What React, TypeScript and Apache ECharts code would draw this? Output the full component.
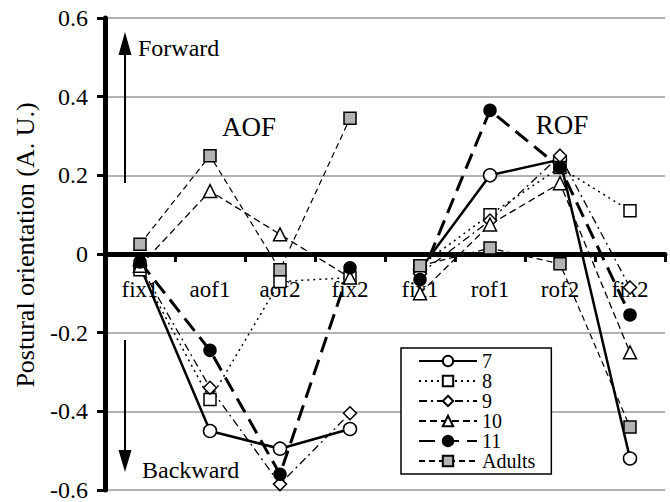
import React, { useEffect, useRef } from "react";
import * as echarts from "echarts";

// Conditions along the x axis: AOF block then ROF block
const categories = ["fix1", "aof1", "aof2", "fix2", "fix1", "rof1", "rof2", "fix2"];
const groupNames = ["AOF", "ROF"];
const legendNames = ["7", "8", "9", "10", "11", "Adults"];
const yTitle = "Postural orientation (A. U.)";

// Postural orientation (A. U.) per age group
const age7 = [-0.03, -0.45, -0.495, -0.445, -0.04, 0.2, 0.24, -0.52];
const age8 = [-0.04, -0.37, -0.07, -0.06, -0.03, 0.1, 0.22, 0.11];
const age9 = [-0.03, -0.34, -0.585, -0.405, -0.05, 0.085, 0.25, -0.085];
const age10 = [-0.03, 0.16, 0.05, -0.06, -0.1, 0.075, 0.18, -0.25];
const age11 = [-0.02, -0.245, -0.56, -0.035, -0.065, 0.365, 0.22, -0.155];
const adults = [0.025, 0.25, -0.04, 0.345, -0.03, 0.015, -0.025, -0.44];

const yTicks = [-0.6, -0.4, -0.2, 0, 0.2, 0.4, 0.6];

const SERIF = "Liberation Serif";
const RHOMBUS = "path://M5,0L10,5L5,10L0,5Z";

// Plot area in pixels
const GRID = { left: 105, right: 5, top: 18, bottom: 12 };
const PLOT_H = 502 - GRID.top - GRID.bottom;

type Style = {
  symbol: string;
  symbolSize: number;
  fill: string;
  lineType: any;
  lineWidth: number;
};

const styles: Record<string, Style> = {
  "7": { symbol: "circle", symbolSize: 13, fill: "#ffffff", lineType: "solid", lineWidth: 2.5 },
  "8": { symbol: "rect", symbolSize: 12, fill: "#ffffff", lineType: [2, 4], lineWidth: 1.5 },
  "9": { symbol: RHOMBUS, symbolSize: 13, fill: "#ffffff", lineType: [8, 4, 2, 4], lineWidth: 1.3 },
  "10": { symbol: "triangle", symbolSize: 13, fill: "#ffffff", lineType: [7, 4], lineWidth: 1.3 },
  "11": { symbol: "circle", symbolSize: 12, fill: "#000000", lineType: [16, 8], lineWidth: 3 },
  Adults: { symbol: "rect", symbolSize: 12, fill: "#b3b3b3", lineType: [6, 4], lineWidth: 1.2 },
};

const seriesValues: Record<string, number[]> = {
  "7": age7,
  "8": age8,
  "9": age9,
  "10": age10,
  "11": age11,
  Adults: adults,
};

// Each age group is drawn as two separate polylines (AOF and ROF blocks)
function makeSeries(name: string) {
  const s = styles[name];
  const values = seriesValues[name];
  return [0, 1].map((block) => ({
    type: "line",
    name,
    data: values.map((v, i) => (Math.floor(i / 4) === block ? v : "-")),
    symbol: s.symbol,
    symbolSize: s.symbolSize,
    showAllSymbol: true,
    connectNulls: false,
    lineStyle: { color: "#000", width: s.lineWidth, type: s.lineType },
    itemStyle: { color: s.fill, borderColor: "#000", borderWidth: 1.5 },
    emphasis: { disabled: true },
    z: 3,
  }));
}

export default function App() {
  const ref = useRef<HTMLDivElement>(null);

  useEffect(() => {
    if (!ref.current) return;
    const chart = echarts.init(ref.current, null, { renderer: "svg" });

    const yMin = yTicks[0];
    const yMax = yTicks[yTicks.length - 1];
    // distance from the bottom of the plot to the zero line
    const zeroOffset = (PLOT_H * (0 - yMin)) / (yMax - yMin);

    const arrowStyle = { stroke: "#000", lineWidth: 2 };
    chart.setOption({
      animation: false,
      backgroundColor: "#ffffff",
      textStyle: { fontFamily: SERIF },
      grid: { ...GRID, containLabel: false, outerBoundsMode: "none" },
      xAxis: {
        type: "category",
        data: categories,
        boundaryGap: true,
        position: "bottom",
        offset: -zeroOffset,
        axisLine: { onZero: false, lineStyle: { color: "#000", width: 5 } },
        axisTick: { show: true, inside: false, length: 8, lineStyle: { color: "#000", width: 3 } },
        axisLabel: { margin: 24, fontFamily: SERIF, fontSize: 23, color: "#000" },
        splitLine: { show: false },
        z: 2,
      },
      yAxis: {
        type: "value",
        min: yMin,
        max: yMax,
        interval: 0.2,
        axisLine: { show: true, lineStyle: { color: "#000", width: 5 } },
        axisTick: { show: true, length: 8, lineStyle: { color: "#000", width: 3 } },
        axisLabel: {
          margin: 17,
          fontFamily: SERIF,
          fontSize: 24,
          color: "#000",
          formatter: (v: number) => (Math.abs(v) < 1e-9 ? "0" : v.toFixed(1)),
        },
        splitLine: { show: true, lineStyle: { color: "#999", width: 1.5 } },
      },
      legend: {
        data: legendNames,
        orient: "vertical",
        left: 401,
        top: 348,
        backgroundColor: "#ffffff",
        borderColor: "#000",
        borderWidth: 1.5,
        borderRadius: 0,
        padding: [3, 16, 3, 17],
        itemWidth: 58,
        itemHeight: 13,
        itemGap: 0,
        selectedMode: false,
        textStyle: { fontFamily: SERIF, fontSize: 20, lineHeight: 20, color: "#000" },
      },
      graphic: [
        // Y axis title, reading bottom to top
        {
          type: "text",
          x: 25,
          y: 245,
          rotation: Math.PI / 2,
          style: { text: yTitle, font: `26px ${SERIF}`, fill: "#000", align: "center", verticalAlign: "middle" },
          z: 10,
        },
        // Forward arrow
        { type: "line", shape: { x1: 125, y1: 183, x2: 125, y2: 50 }, style: arrowStyle, z: 10 },
        { type: "polygon", shape: { points: [[125, 32], [118.5, 55], [131.5, 55]] }, style: { fill: "#000" }, z: 10 },
        {
          type: "text",
          x: 138,
          y: 48,
          style: { text: "Forward", font: `24px ${SERIF}`, fill: "#000", verticalAlign: "middle" },
          z: 10,
        },
        // Backward arrow
        { type: "line", shape: { x1: 125, y1: 340, x2: 125, y2: 455 }, style: arrowStyle, z: 10 },
        { type: "polygon", shape: { points: [[125, 472], [118.5, 450], [131.5, 450]] }, style: { fill: "#000" }, z: 10 },
        {
          type: "text",
          x: 142,
          y: 470,
          style: { text: "Backward", font: `24px ${SERIF}`, fill: "#000", verticalAlign: "middle" },
          z: 10,
        },
        // Block titles
        {
          type: "text",
          x: 249,
          y: 127,
          style: { text: groupNames[0], font: `27px ${SERIF}`, fill: "#000", align: "center", verticalAlign: "middle" },
          z: 10,
        },
        {
          type: "text",
          x: 562,
          y: 125,
          style: { text: groupNames[1], font: `27px ${SERIF}`, fill: "#000", align: "center", verticalAlign: "middle" },
          z: 10,
        },
      ],
      series: legendNames.flatMap((n) => makeSeries(n)),
    });

    return () => chart.dispose();
  }, []);

  return (
    <div
      ref={ref}
      style={{ position: "fixed", left: 0, top: 0, width: 670, height: 502, background: "#fff" }}
    />
  );
}
